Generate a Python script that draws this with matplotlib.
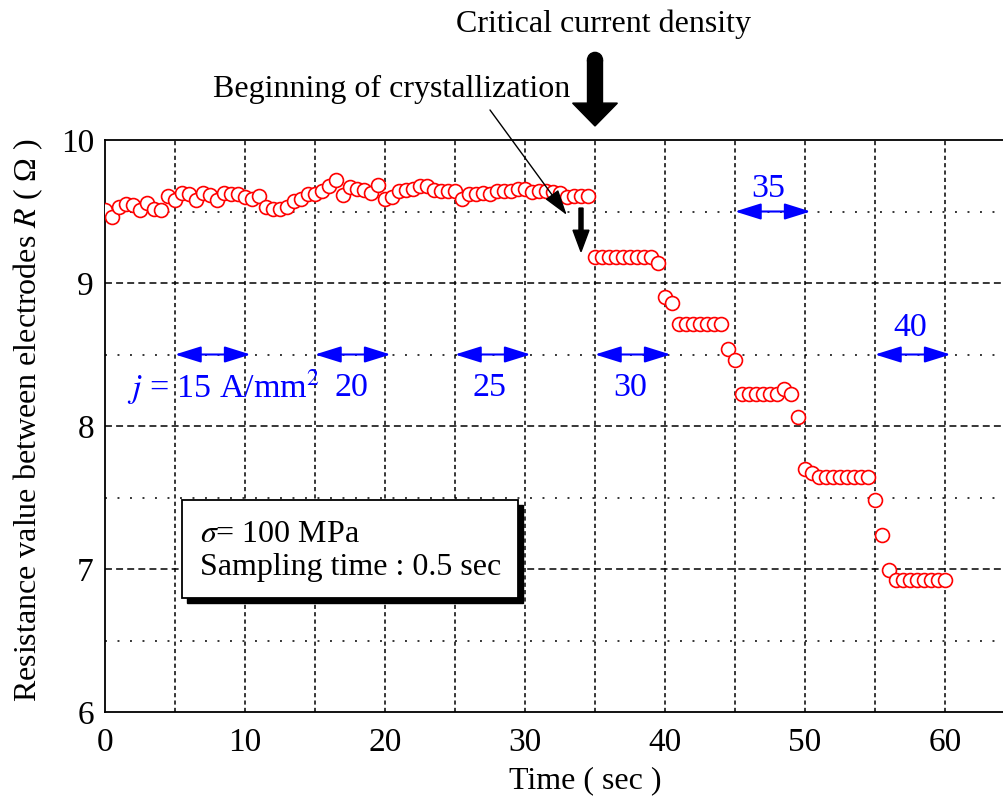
import numpy as np
from matplotlib import pyplot as plt
from matplotlib.patches import FancyArrow, Ellipse, Rectangle

''' --------------------------- data ----------------------------------'''
# sampling time 0.5 sec, 0 - 60 sec
time_sec = np.arange(121) * 0.5
resistance = [
    9.51, 9.46, 9.53, 9.55, 9.545, 9.51, 9.56, 9.52, 9.51, 9.61,
    9.58, 9.63, 9.62, 9.58, 9.63, 9.615, 9.58, 9.63, 9.62, 9.62,
    9.60, 9.585, 9.61, 9.53, 9.515, 9.515, 9.53, 9.575, 9.59, 9.62,
    9.62, 9.64, 9.68, 9.72, 9.615, 9.67, 9.66, 9.65, 9.63, 9.685,
    9.59, 9.60, 9.64, 9.65, 9.66, 9.68, 9.68, 9.65, 9.645, 9.645,
    9.645, 9.59, 9.62, 9.62, 9.63, 9.62, 9.64, 9.645, 9.645, 9.66,
    9.655, 9.635, 9.645, 9.645, 9.635, 9.63, 9.60, 9.61, 9.61, 9.61,
    9.18, 9.18, 9.18, 9.18, 9.18, 9.18, 9.18, 9.18, 9.18, 9.14,
    8.90, 8.86, 8.71, 8.71, 8.71, 8.71, 8.71, 8.71, 8.71, 8.54,
    8.46, 8.225, 8.225, 8.225, 8.225, 8.225, 8.225, 8.26, 8.225, 8.06,
    7.70, 7.67, 7.64, 7.64, 7.64, 7.64, 7.64, 7.64, 7.64, 7.64,
    7.48, 7.235, 6.995, 6.925, 6.925, 6.925, 6.925, 6.925, 6.925, 6.925,
    6.925,
]

# current density steps (start time, label)
step_start = [5, 15, 25, 35, 45, 55]
step_level = [8.5, 8.5, 8.5, 8.5, 9.5, 8.5]
step_label = ['$j$ = 15 A/mm$^2$', '20', '25', '30', '35', '40']
label_x = [1.6, 17.6, 27.5, 37.5, 47.4, 57.5]
label_y = [8.27, 8.27, 8.27, 8.27, 9.66, 8.69]

x_ticks = [0, 10, 20, 30, 40, 50, 60]
y_ticks = [6, 7, 8, 9, 10]

''' --------------------------- style ----------------------------------'''
plt.rcParams['font.family'] = ['Liberation Serif', 'DejaVu Serif']
plt.rcParams['mathtext.fontset'] = 'stix'
plt.rcParams['lines.scale_dashes'] = False
fs = 23

fig = plt.figure(figsize=(10.04, 8.01), dpi=100)
ax = fig.add_axes([105 / 1004, 89 / 801, 899 / 1004, 572 / 801])
ax.set_xlim(0, 899 / 14.0)
ax.set_ylim(6, 10)

# grid
for gx in range(5, 65, 5):
    ax.axvline(gx, color='black', lw=1.1, dashes=(3, 2.3), zorder=1)
for gy in [6.5, 7.5, 8.5, 9.5]:
    ax.axhline(gy, color='black', lw=1.1, dashes=(1.4, 7.6), zorder=1)
for gy in [7, 8, 9]:
    ax.axhline(gy, color='black', lw=1.1, dashes=(5, 3), zorder=1)

ax.plot(time_sec, resistance, 'o', color='red', mfc='white', mec='red',
        ms=10, mew=1.2, zorder=3)

ax.spines['right'].set_visible(False)
for s in ['left', 'bottom', 'top']:
    ax.spines[s].set_linewidth(1.3)
ax.set_xticks(x_ticks)
ax.set_yticks(y_ticks)
ax.tick_params(length=0, labelsize=24)
ax.tick_params(axis='x', pad=11)
ax.tick_params(axis='y', pad=8)

ax.set_xlabel('Time ( sec )', fontsize=fs)
ax.xaxis.set_label_coords(34.3 / (899 / 14.0), -0.095)
ax.set_ylabel('Resistance value between electrodes $R$ ( Ω )', fontsize=fs)
ax.yaxis.label.set_va('center')
ax.yaxis.set_label_coords(-0.085, 0.51)

''' --------------------------- annotations ----------------------------------'''
blue = '#0000ff'
for x0, lev, lab, lx, ly in zip(step_start, step_level, step_label, label_x, label_y):
    ax.annotate('', xy=(x0 + 5.4, lev), xytext=(x0, lev),
                arrowprops=dict(arrowstyle='<|-|>,head_length=1.6,head_width=0.5',
                                color=blue, lw=1.5, shrinkA=0, shrinkB=0,
                                mutation_scale=10), zorder=4)
    ha = 'left' if lx < 3 else 'center'
    ax.text(lx, ly, lab, color=blue, fontsize=24.5, ha=ha, va='center', zorder=4)

# critical current density arrow
ax.add_patch(FancyArrow(35, 10.56, 0, 10.098 - 10.56, width=1.07, head_width=3.2,
                        head_length=0.16, length_includes_head=True,
                        color='black', clip_on=False))
ax.add_patch(Ellipse((35, 10.56), 1.07, 0.105, color='black', clip_on=False))
ax.text(35.6, 10.81, 'Critical current density', fontsize=fs, ha='center', va='center')

# beginning of crystallization
ax.add_patch(FancyArrow(34.0, 9.524, 0, 9.219 - 9.524, width=0.29, head_width=1.14,
                        head_length=0.15, length_includes_head=True,
                        color='black', zorder=5))
ax.annotate('', xy=(32.98, 9.476), xytext=(27.5, 10.21),
            arrowprops=dict(arrowstyle='-|>,head_length=1.6,head_width=0.5',
                            color='black', lw=1, shrinkA=0, shrinkB=0,
                            mutation_scale=10), zorder=5, annotation_clip=False)
ax.text(20.5, 10.35, 'Beginning of crystallization', fontsize=fs, ha='center', va='center')

# condition box
ax.add_patch(Rectangle((5.48 + 0.36, 6.797 - 0.035), 24.02, 0.686,
                       facecolor='black', edgecolor='black', zorder=5))
ax.add_patch(Rectangle((5.48, 6.797), 24.02, 0.686, facecolor='white',
                       edgecolor='black', lw=1.3, zorder=6))
ax.text(6.75, 7.24, r'$\sigma$= 100 MPa', fontsize=fs, ha='left', va='center', zorder=7)
ax.text(6.75, 7.01, 'Sampling time : 0.5 sec', fontsize=fs, ha='left', va='center', zorder=7)

plt.savefig('out.png', dpi=100)
